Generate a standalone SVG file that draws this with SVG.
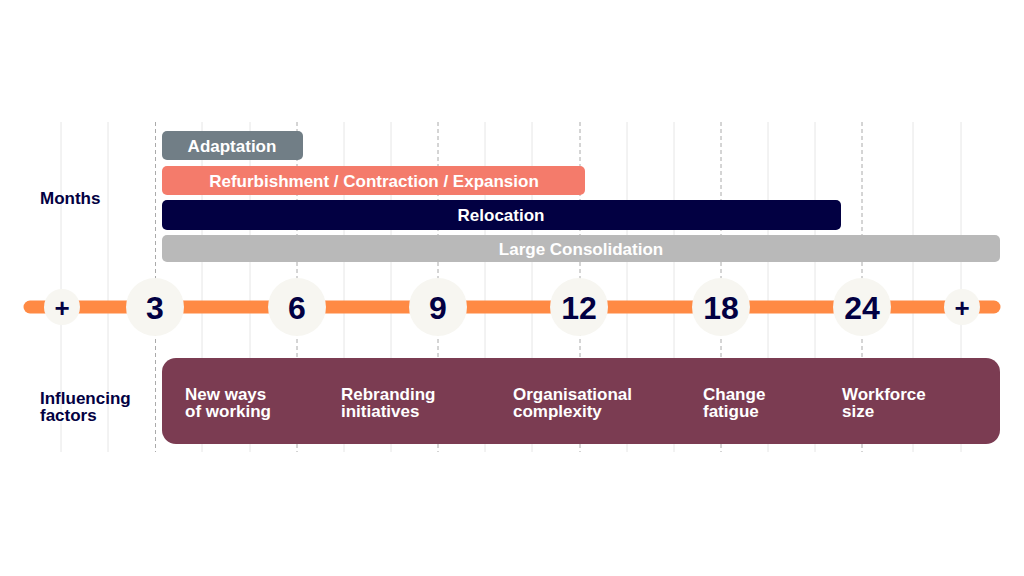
<svg xmlns="http://www.w3.org/2000/svg" width="1024" height="576" viewBox="0 0 1024 576">
<style>
text{font-family:"Liberation Sans",Arial,sans-serif;font-weight:bold}
.g{stroke:#e6e6e6;stroke-width:1}
.d{stroke:#aaaaaa;stroke-width:1;stroke-dasharray:4 3}
.bl{fill:#fff;font-size:17px;text-anchor:middle}
.num{fill:#020042;font-size:32px;text-anchor:middle}
.c{fill:#f7f6f1}
.f{fill:#fff;font-size:17px}
.lab{fill:#020042;font-size:17px}
</style>
<rect width="1024" height="576" fill="#fff"/>
<g id="grid">
<line class="g" x1="61" y1="122" x2="61" y2="452"/><line class="g" x1="108" y1="122" x2="108" y2="452"/>
<line class="d" x1="155.5" y1="122" x2="155.5" y2="452"/>
<line class="g" x1="202" y1="122" x2="202" y2="452"/><line class="g" x1="250" y1="122" x2="250" y2="452"/>
<line class="d" x1="297" y1="122" x2="297" y2="452"/>
<line class="g" x1="344" y1="122" x2="344" y2="452"/><line class="g" x1="391" y1="122" x2="391" y2="452"/>
<line class="d" x1="438" y1="122" x2="438" y2="452"/>
<line class="g" x1="485" y1="122" x2="485" y2="452"/><line class="g" x1="532" y1="122" x2="532" y2="452"/>
<line class="d" x1="580" y1="122" x2="580" y2="452"/>
<line class="g" x1="627" y1="122" x2="627" y2="452"/><line class="g" x1="674" y1="122" x2="674" y2="452"/>
<line class="d" x1="721" y1="122" x2="721" y2="452"/>
<line class="g" x1="768" y1="122" x2="768" y2="452"/><line class="g" x1="815" y1="122" x2="815" y2="452"/>
<line class="d" x1="862" y1="122" x2="862" y2="452"/>
<line class="g" x1="913" y1="122" x2="913" y2="452"/><line class="g" x1="961" y1="122" x2="961" y2="452"/>
</g>
<text class="lab" x="40" y="204">Months</text>
<g id="adaptation"><rect x="162" y="131" width="141" height="29" rx="5" fill="#717e86"/><text class="bl" x="232" y="152">Adaptation</text></g>
<g id="refurb"><rect x="162" y="166" width="423" height="29" rx="5" fill="#f47b6b"/><text class="bl" x="374" y="187">Refurbishment / Contraction / Expansion</text></g>
<g id="relocation"><rect x="162" y="200" width="679" height="30" rx="5" fill="#020042"/><text class="bl" x="501" y="221">Relocation</text></g>
<g id="consolidation"><rect x="162" y="235" width="838" height="27" rx="5" fill="#b9b9b9"/><text class="bl" x="581" y="255">Large Consolidation</text></g>
<g id="timeline">
<line x1="30" y1="307" x2="994" y2="307" stroke="#ff8a44" stroke-width="13" stroke-linecap="round"/>
<circle class="c" cx="62" cy="307" r="18"/><text class="num" x="62" y="317" style="font-size:26px">+</text>
<circle class="c" cx="155" cy="307" r="29"/><text class="num" x="155" y="319">3</text>
<circle class="c" cx="297" cy="307" r="29"/><text class="num" x="297" y="319">6</text>
<circle class="c" cx="438" cy="307" r="29"/><text class="num" x="438" y="319">9</text>
<circle class="c" cx="579" cy="307" r="29"/><text class="num" x="579" y="319">12</text>
<circle class="c" cx="721" cy="307" r="29"/><text class="num" x="721" y="319">18</text>
<circle class="c" cx="862" cy="307" r="29"/><text class="num" x="862" y="319">24</text>
<circle class="c" cx="962" cy="307" r="18"/><text class="num" x="962" y="317" style="font-size:26px">+</text>
</g>
<text class="lab" x="40" y="404">Influencing</text><text class="lab" x="40" y="421">factors</text>
<g id="factors">
<rect x="162" y="358" width="838" height="86" rx="14" fill="#7b3c52"/>
<text class="f" x="185" y="400">New ways</text><text class="f" x="185" y="417">of working</text>
<text class="f" x="341" y="400">Rebranding</text><text class="f" x="341" y="417">initiatives</text>
<text class="f" x="513" y="400">Organisational</text><text class="f" x="513" y="417">complexity</text>
<text class="f" x="703" y="400">Change</text><text class="f" x="703" y="417">fatigue</text>
<text class="f" x="842" y="400">Workforce</text><text class="f" x="842" y="417">size</text>
</g>
</svg>
